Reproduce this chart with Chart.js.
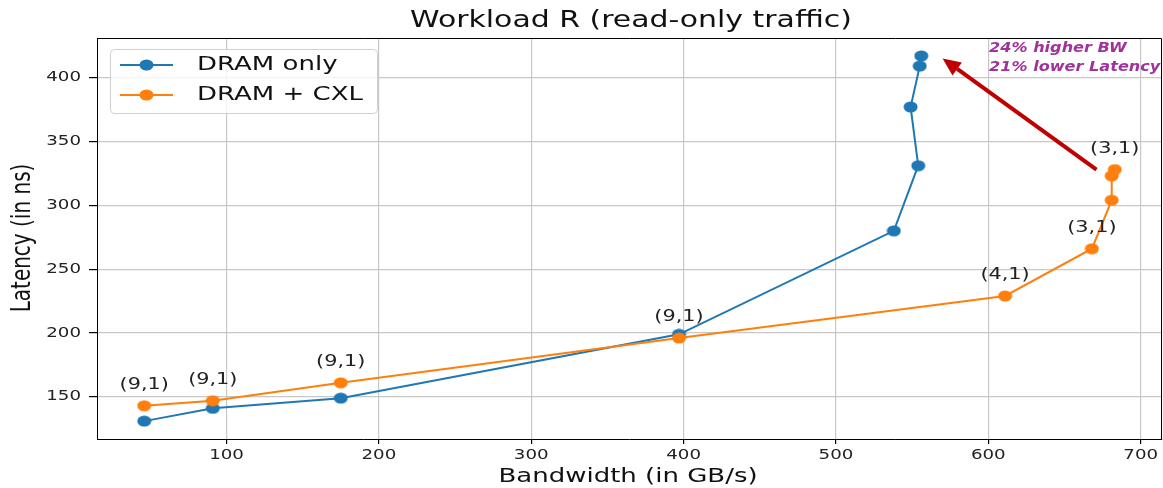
<!DOCTYPE html>
<html>
<head>
<meta charset="utf-8">
<script src="https://cdn.jsdelivr.net/npm/chart.js@4.4.1/dist/chart.umd.min.js"></script>
<style>
    body { margin: 0; background: #fff; }
    canvas { display: block; }
</style>
</head>
<body>
<canvas id="workloadChart" width="1163" height="488"></canvas>
<script>
// Bandwidth (GB/s) and latency (ns)
const bwDram = [46, 91, 175, 397, 538, 554, 549, 555, 556];
const latDram = [131, 141, 149, 199, 280, 331, 377, 409, 417];
const bwCxl = [46, 91, 175, 397, 611, 668, 681, 681, 683];
const latCxl = [143, 147, 161, 196, 229, 266, 304, 323, 328];

// point tags shown above the DRAM + CXL points
const cxlTags = ['(9,1)', '(9,1)', '(9,1)', '(9,1)', '(4,1)', '(3,1)', '', '', '(3,1)'];

const xTicks = [100, 200, 300, 400, 500, 600, 700];
const yTicks = [150, 200, 250, 300, 350, 400];

const seriesNames = ['DRAM only', 'DRAM + CXL'];
const seriesColors = ['#1f77b4', '#ff7f0e'];
const noteLines = ['24% higher BW', '21% lower Latency'];
// arrow from the CXL knee back to the DRAM-only knee (data units)
const arrowFrom = [671, 328];
const arrowTo = [570, 415];

const FONT = '"DejaVu Sans", sans-serif';
const SX = 1.3; // the source picture is stretched sideways

// markers are slightly wide ellipses in the source
function makeMarker(color) {
    const c = document.createElement('canvas');
    c.width = 15;
    c.height = 12;
    const g = c.getContext('2d');
    g.fillStyle = color;
    g.beginPath();
    g.ellipse(7.5, 6, 7, 5.5, 0, 0, Math.PI * 2);
    g.fill();
    return c;
}
const markers = seriesColors.map(makeMarker);

function drawText(ctx, s, x, y, font, color, align, sx, rot) {
    ctx.save();
    ctx.translate(x, y);
    ctx.scale(sx, 1);
    if (rot) ctx.rotate(rot);
    ctx.font = font;
    ctx.fillStyle = color;
    ctx.textAlign = align;
    ctx.textBaseline = 'middle';
    ctx.fillText(s, 0, 0);
    ctx.restore();
}

const decorations = {
    id: 'decorations',
    afterDraw(chart) {
        const ctx = chart.ctx;
        const area = chart.chartArea;
        const xs = chart.scales.x;
        const ys = chart.scales.y;

        // top and right frame
        ctx.save();
        ctx.strokeStyle = '#000';
        ctx.lineWidth = 1;
        ctx.beginPath();
        ctx.moveTo(area.left, area.top + 0.5);
        ctx.lineTo(area.right - 0.5, area.top + 0.5);
        ctx.lineTo(area.right - 0.5, area.bottom);
        ctx.stroke();
        ctx.restore();

        // tick labels
        xTicks.forEach(v => {
            drawText(ctx, String(v), xs.getPixelForValue(v), area.bottom + 16, '14px ' + FONT, '#222', 'center', SX);
        });
        yTicks.forEach(v => {
            ctx.save();
            ctx.translate(81, ys.getPixelForValue(v));
            ctx.scale(SX, 1);
            ctx.font = '14px ' + FONT;
            ctx.fillStyle = '#222';
            ctx.textAlign = 'right';
            ctx.textBaseline = 'middle';
            ctx.fillText(String(v), 0, 0);
            ctx.restore();
        });

        // titles
        drawText(ctx, 'Workload R (read-only traffic)', 631, 21, '23px ' + FONT, '#111', 'center', SX);
        drawText(ctx, 'Bandwidth (in GB/s)', 628, 477, '20px ' + FONT, '#111', 'center', SX);
        drawText(ctx, 'Latency (in ns)', 23, 238, '20px ' + FONT, '#111', 'center', SX, -Math.PI / 2);

        // point tags
        cxlTags.forEach((t, i) => {
            if (!t) return;
            const px = xs.getPixelForValue(bwCxl[i]);
            const py = ys.getPixelForValue(latCxl[i]);
            drawText(ctx, t, px, py - 21, '16px ' + FONT, '#222', 'center', SX);
        });

        // arrow
        const x0 = xs.getPixelForValue(arrowFrom[0]);
        const y0 = ys.getPixelForValue(arrowFrom[1]);
        const x1 = xs.getPixelForValue(arrowTo[0]);
        const y1 = ys.getPixelForValue(arrowTo[1]);
        const ang = Math.atan2(y1 - y0, x1 - x0);
        const headLen = 18, headHalf = 8;
        const bx = x1 - headLen * Math.cos(ang);
        const by = y1 - headLen * Math.sin(ang);
        ctx.save();
        ctx.strokeStyle = '#c00000';
        ctx.fillStyle = '#c00000';
        ctx.lineWidth = 4;
        ctx.beginPath();
        ctx.moveTo(x0, y0);
        ctx.lineTo(bx, by);
        ctx.stroke();
        ctx.beginPath();
        ctx.moveTo(x1, y1);
        ctx.lineTo(bx + headHalf * Math.sin(ang), by - headHalf * Math.cos(ang));
        ctx.lineTo(bx - headHalf * Math.sin(ang), by + headHalf * Math.cos(ang));
        ctx.closePath();
        ctx.fill();
        ctx.restore();

        // note text
        noteLines.forEach((t, i) => {
            drawText(ctx, t, 989, 48 + i * 19, 'italic bold 14px ' + FONT, '#a0329b', 'left', 1.15);
        });

        // legend box
        ctx.save();
        ctx.fillStyle = 'rgba(255,255,255,0.8)';
        ctx.strokeStyle = '#d0d0d0';
        ctx.lineWidth = 1;
        ctx.beginPath();
        ctx.roundRect(110.5, 49.5, 267, 64, 4);
        ctx.fill();
        ctx.stroke();
        seriesNames.forEach((name, i) => {
            const ly = 65 + i * 30;
            ctx.strokeStyle = seriesColors[i];
            ctx.lineWidth = 2;
            ctx.beginPath();
            ctx.moveTo(120, ly);
            ctx.lineTo(173, ly);
            ctx.stroke();
            ctx.drawImage(markers[i], 146.5 - 7.5, ly - 6);
            drawText(ctx, name, 197, ly, '20px ' + FONT, '#111', 'left', SX);
        });
        ctx.restore();
    }
};

const ctx = document.getElementById('workloadChart').getContext('2d');
const workloadChart = new Chart(ctx, {
    type: 'scatter',
    data: {
        datasets: [
            {
                label: seriesNames[0],
                data: bwDram.map((v, i) => ({ x: v, y: latDram[i] })),
                borderColor: seriesColors[0],
                backgroundColor: seriesColors[0],
                showLine: true,
                borderWidth: 2,
                pointStyle: markers[0],
                order: 1
            },
            {
                label: seriesNames[1],
                data: bwCxl.map((v, i) => ({ x: v, y: latCxl[i] })),
                borderColor: seriesColors[1],
                backgroundColor: seriesColors[1],
                showLine: true,
                borderWidth: 2,
                pointStyle: markers[1],
                order: 0
            }
        ]
    },
    options: {
        responsive: false,
        animation: false,
        layout: { autoPadding: false, padding: { top: 38, right: 1, left: 0, bottom: 0 } },
        plugins: {
            legend: { display: false },
            title: { display: false },
            tooltip: { enabled: false }
        },
        scales: {
            x: {
                type: 'linear',
                min: 15,
                max: 714,
                afterBuildTicks: scale => { scale.ticks = xTicks.map(v => ({ value: v })); },
                afterFit: scale => { scale.height = 49; },
                ticks: { display: false },
                grid: { color: '#c8c8c8', lineWidth: 1.2, tickColor: '#000', tickLength: 5 },
                border: { display: true, color: '#000', width: 1 }
            },
            y: {
                type: 'linear',
                min: 117,
                max: 431,
                afterBuildTicks: scale => { scale.ticks = yTicks.map(v => ({ value: v })); },
                afterFit: scale => { scale.width = 97; },
                ticks: { display: false },
                grid: { color: '#c8c8c8', lineWidth: 1.2, tickColor: '#000', tickLength: 8 },
                border: { display: true, color: '#000', width: 1 }
            }
        }
    },
    plugins: [decorations]
});
</script>
</body>
</html>
